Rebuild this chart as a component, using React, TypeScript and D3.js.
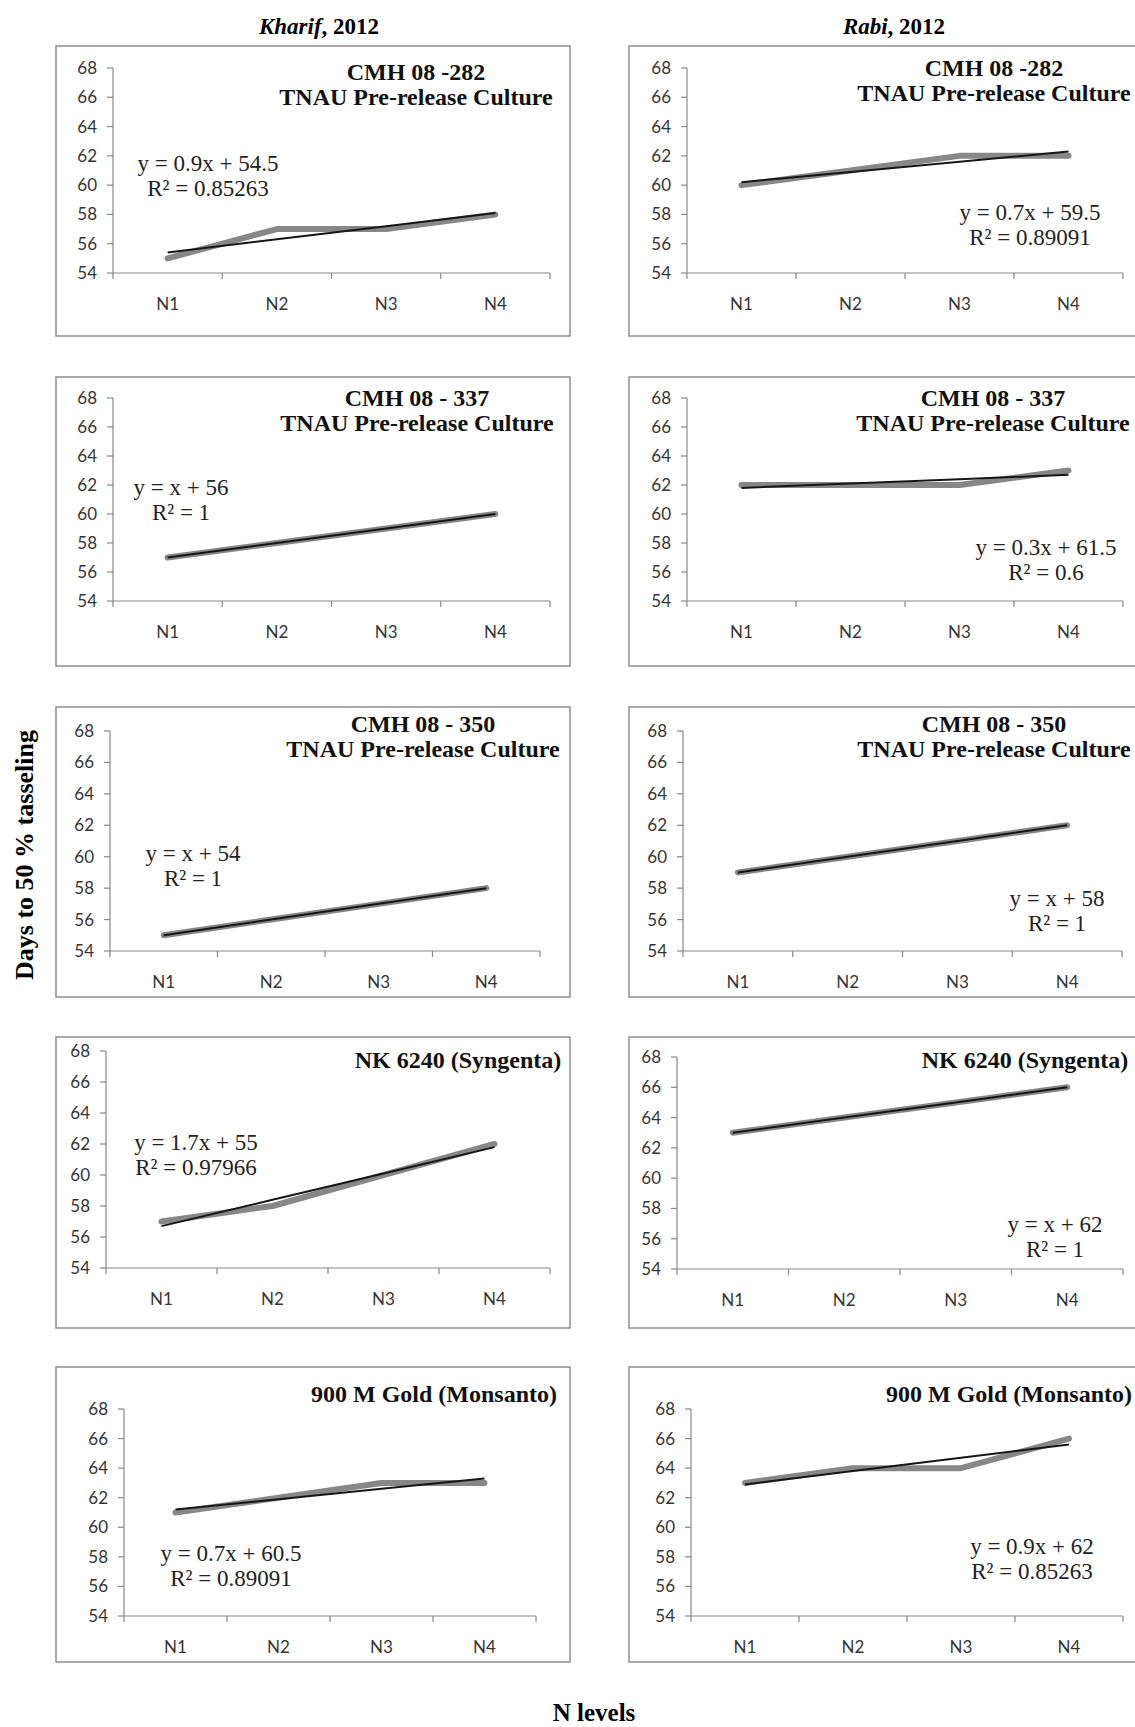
import React from "react";
import * as d3 from "d3";

// N levels on the x axis, same for every panel
const levels = ["N1", "N2", "N3", "N4"];
const yTicks = [54, 56, 58, 60, 62, 64, 66, 68];

// days to 50 % tasseling
const kharif282 = [55, 57, 57, 58];
const rabi282 = [60, 61, 62, 62];
const kharif337 = [57, 58, 59, 60];
const rabi337 = [62, 62, 62, 63];
const kharif350 = [55, 56, 57, 58];
const rabi350 = [59, 60, 61, 62];
const kharifNK = [57, 58, 60, 62];
const rabiNK = [63, 64, 65, 66];
const kharifGold = [61, 62, 63, 63];
const rabiGold = [63, 64, 64, 66];

// linear trend lines [slope, intercept], as printed on each panel
const trendK282 = [0.9, 54.5];
const trendR282 = [0.7, 59.5];
const trendK337 = [1, 56];
const trendR337 = [0.3, 61.5];
const trendK350 = [1, 54];
const trendR350 = [1, 58];
const trendKNK = [1.7, 55];
const trendRNK = [1, 62];
const trendKGold = [0.7, 60.5];
const trendRGold = [0.9, 62];

const eqK282 = ["y = 0.9x + 54.5", "R² = 0.85263"];
const eqR282 = ["y = 0.7x + 59.5", "R² = 0.89091"];
const eqK337 = ["y = x + 56", "R² = 1"];
const eqR337 = ["y = 0.3x + 61.5", "R² = 0.6"];
const eqK350 = ["y = x + 54", "R² = 1"];
const eqR350 = ["y = x + 58", "R² = 1"];
const eqKNK = ["y = 1.7x + 55", "R² = 0.97966"];
const eqRNK = ["y = x + 62", "R² = 1"];
const eqKGold = ["y = 0.7x + 60.5", "R² = 0.89091"];
const eqRGold = ["y = 0.9x + 62", "R² = 0.85263"];

const title282 = ["CMH 08 -282", "TNAU Pre-release Culture"];
const title337 = ["CMH 08 - 337", "TNAU Pre-release Culture"];
const title350 = ["CMH 08 - 350", "TNAU Pre-release Culture"];
const titleNK = ["NK 6240 (Syngenta)"];
const titleGold = ["900 M Gold (Monsanto)"];

// layout: frame box, plot box, title centre, equation centre
const panels = [
  { values: kharif282, trend: trendK282, eq: eqK282, title: title282,
    frame: [56, 46, 514, 290], plot: [113, 68, 550, 273], tx: 416, ty: 72, ex: 208, ey: 163 },
  { values: rabi282, trend: trendR282, eq: eqR282, title: title282,
    frame: [629, 46, 514, 290], plot: [687, 68, 1123, 273], tx: 994, ty: 68, ex: 1030, ey: 212 },
  { values: kharif337, trend: trendK337, eq: eqK337, title: title337,
    frame: [56, 377, 514, 289], plot: [113, 398, 550, 601], tx: 417, ty: 398, ex: 181, ey: 487 },
  { values: rabi337, trend: trendR337, eq: eqR337, title: title337,
    frame: [629, 377, 514, 289], plot: [687, 398, 1123, 601], tx: 993, ty: 398, ex: 1046, ey: 547 },
  { values: kharif350, trend: trendK350, eq: eqK350, title: title350,
    frame: [56, 707, 514, 290], plot: [110, 731, 540, 951], tx: 423, ty: 724, ex: 193, ey: 853 },
  { values: rabi350, trend: trendR350, eq: eqR350, title: title350,
    frame: [629, 707, 514, 290], plot: [683, 731, 1122, 951], tx: 994, ty: 724, ex: 1057, ey: 898 },
  { values: kharifNK, trend: trendKNK, eq: eqKNK, title: titleNK,
    frame: [56, 1037, 514, 291], plot: [106, 1051, 550, 1268], tx: 458, ty: 1060, ex: 196, ey: 1142 },
  { values: rabiNK, trend: trendRNK, eq: eqRNK, title: titleNK,
    frame: [629, 1037, 514, 291], plot: [677, 1057, 1123, 1269], tx: 1025, ty: 1060, ex: 1055, ey: 1224 },
  { values: kharifGold, trend: trendKGold, eq: eqKGold, title: titleGold,
    frame: [56, 1367, 514, 295], plot: [124, 1409, 536, 1616], tx: 434, ty: 1394, ex: 231, ey: 1553 },
  { values: rabiGold, trend: trendRGold, eq: eqRGold, title: titleGold,
    frame: [629, 1367, 514, 295], plot: [691, 1409, 1123, 1616], tx: 1009, ty: 1394, ex: 1032, ey: 1546 },
];

const serif = "'Liberation Serif', 'Times New Roman', serif";
const sans = "Lato, 'Open Sans', sans-serif";
const axisColor = "#878787";

function Panel({ p }) {
  const [fx, fy, fw, fh] = p.frame;
  const [x0, y0, x1, y1] = p.plot;
  const x = d3.scaleBand().domain(levels).range([x0, x1]);
  const y = d3.scaleLinear().domain([54, 68]).range([y1, y0]);
  const cx = (d) => x(d) + x.bandwidth() / 2;
  const line = d3.line().x((d) => d[0]).y((d) => d[1]);
  const dataPts = p.values.map((v, i) => [cx(levels[i]), y(v)]);
  const trendPts = levels.map((l, i) => [cx(l), y(p.trend[0] * (i + 1) + p.trend[1])]);
  const bounds = levels.map((l) => x(l)).concat([x1]);

  return (
    <g>
      <rect x={fx} y={fy} width={fw} height={fh} fill="#fff" stroke="#8f8f8f" strokeWidth={1.5} />
      {/* y axis */}
      <line x1={x0} x2={x0} y1={y0} y2={y1} stroke={axisColor} strokeWidth={1.2} />
      {yTicks.map((t) => (
        <g key={t}>
          <line x1={x0 - 6} x2={x0} y1={y(t)} y2={y(t)} stroke={axisColor} strokeWidth={1.2} />
          <text x={x0 - 16} y={y(t)} dy="0.35em" textAnchor="end" fontFamily={sans}
            fontSize={17} fill="#353535">{t}</text>
        </g>
      ))}
      {/* x axis */}
      <line x1={x0} x2={x1} y1={y1} y2={y1} stroke={axisColor} strokeWidth={1.2} />
      {bounds.map((b, i) => (
        <line key={i} x1={b} x2={b} y1={y1} y2={y1 + 6} stroke={axisColor} strokeWidth={1.2} />
      ))}
      {levels.map((l) => (
        <text key={l} x={cx(l)} y={y1 + 31} dy="0.35em" textAnchor="middle" fontFamily={sans}
          fontSize={17} fill="#353535">{l}</text>
      ))}
      {/* observed values and trend */}
      <path d={line(dataPts)} fill="none" stroke="#878787" strokeWidth={6}
        strokeLinecap="round" strokeLinejoin="round" />
      <path d={line(trendPts)} fill="none" stroke="#161616" strokeWidth={2} />
      {/* title and equation */}
      {p.title.map((t, i) => (
        <text key={i} x={p.tx} y={p.ty + i * 25} dy="0.35em" textAnchor="middle" fontFamily={serif}
          fontWeight="bold" fontSize={24} fill="#111">{t}</text>
      ))}
      {p.eq.map((t, i) => (
        <text key={i} x={p.ex} y={p.ey + i * 25} dy="0.35em" textAnchor="middle" fontFamily={serif}
          fontSize={23} fill="#222">{t}</text>
      ))}
    </g>
  );
}

export default function App() {
  return (
    <svg width={1135} height={1727} viewBox="0 0 1135 1727"
      style={{ position: "absolute", left: 0, top: 0, background: "#fff" }}>
      <rect width={1135} height={1727} fill="#fff" />
      <text x={319} y={26} dy="0.35em" textAnchor="middle" fontFamily={serif} fontWeight="bold" fontSize={23}>
        <tspan fontStyle="italic">Kharif</tspan>, 2012
      </text>
      <text x={894} y={26} dy="0.35em" textAnchor="middle" fontFamily={serif} fontWeight="bold" fontSize={23}>
        <tspan fontStyle="italic">Rabi</tspan>, 2012
      </text>
      {panels.map((p, i) => <Panel key={i} p={p} />)}
      <text transform="translate(24,855) rotate(-90)" dy="0.35em" textAnchor="middle" fontFamily={serif}
        fontWeight="bold" fontSize={26}>Days to 50 % tasseling</text>
      <text x={594} y={1712} dy="0.35em" textAnchor="middle" fontFamily={serif} fontWeight="bold"
        fontSize={25}>N levels</text>
    </svg>
  );
}
